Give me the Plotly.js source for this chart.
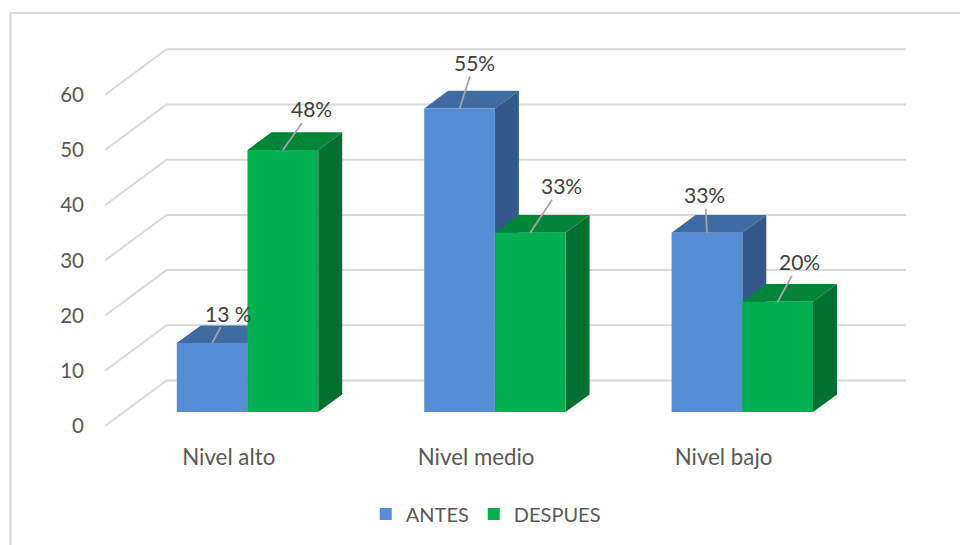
<!DOCTYPE html>
<html>
<head>
<meta charset="utf-8">
<script src="https://cdn.plot.ly/plotly-3.0.1.min.js"></script>
<style>html,body{margin:0;padding:0;background:#fff}#c{width:960px;height:545px}</style>
</head>
<body>
<div id="c"></div>
<script>
// Data
const categories = ['Nivel alto', 'Nivel medio', 'Nivel bajo'];
const antes = [12.5, 55, 32.5];
const despues = [47.5, 32.5, 20];
const antesLabels = ['13 %', '55%', '33%'];
const despuesLabels = ['48%', '33%', '20%'];
const yTicks = [0, 10, 20, 30, 40, 50, 60];

// Pseudo-3D projection (in axis units)
const W = 960, H = 545;
const M = {l: 88, r: 40, t: 20, b: 103};
const pxPerCat = 247.4, pxPerUnit = 5.52;
const xOf = px => (px - 247.5) / pxPerCat;
const yOf = px => (426 - px) / pxPerUnit;
const xRange = [xOf(M.l), xOf(W - M.r)];
const yRange = [yOf(H - M.b), yOf(M.t)];
const DX = 61.5 / pxPerCat, DY = 45.5 / pxPerUnit;   // full depth of the floor
const T0 = 0.305, T1 = 0.695;                        // bar depth inside floor
const BAR = 70.7 / pxPerCat;
const base = T0 * DY;
const dX = (T1 - T0) * DX, dY = (T1 - T0) * DY;

// wall gridlines
const gx = [], gy = [];
const wallL = -0.5 - T0 * DX, wallR = xOf(906);
yTicks.forEach(v => {
  gx.push(wallL, wallL + DX, wallR, null);
  gy.push(v, v + DY, v + DY, null);
});

function faces(values, offset) {
  const top = {x: [], y: []}, side = {x: [], y: []};
  values.forEach((v, i) => {
    const l = i + offset * BAR, r = l + BAR, h = base + v;
    top.x.push(l, r, r + dX, l + dX, l, null);
    top.y.push(h, h, h + dY, h + dY, h, null);
    side.x.push(r, r + dX, r + dX, r, r, null);
    side.y.push(base, base + dY, h + dY, h, base, null);
  });
  return {top, side};
}
const fa = faces(antes, -1), fd = faces(despues, 0);
const poly = (f, color) => ({
  x: f.x, y: f.y, type: 'scatter', mode: 'lines', fill: 'toself', fillcolor: color,
  line: {width: 0, color: color}, showlegend: false, hoverinfo: 'skip'
});
const idx = categories.map((_, i) => i);

const traces = [
  {x: gx, y: gy, type: 'scatter', mode: 'lines', line: {color: '#DADADA', width: 2},
   showlegend: false, hoverinfo: 'skip'},
  poly(fa.side, '#33598A'), poly(fa.top, '#3E6BA1'),
  poly(fd.side, '#007030'), poly(fd.top, '#008539'),
  {x: idx.map(i => i - BAR / 2), y: antes, base: antes.map(() => base), width: BAR,
   type: 'bar', name: 'ANTES', marker: {color: '#558ED5'}, xaxis: 'x2', yaxis: 'y2'},
  {x: idx.map(i => i + BAR / 2), y: despues, base: despues.map(() => base), width: BAR,
   type: 'bar', name: 'DESPUES', marker: {color: '#00B050'}, xaxis: 'x2', yaxis: 'y2'}
];

const antesOff = [[16, -30], [15, -46], [-2, -38]];
const despuesOff = [[29, -41], [31, -47], [22, -40]];
const ann = (v, i, off, sign, text) => ({
  x: i + sign * BAR / 2, y: base + v, xref: 'x', yref: 'y', text,
  ax: off[0], ay: off[1], axref: 'pixel', ayref: 'pixel',
  showarrow: true, arrowhead: 0, arrowwidth: 1.8, arrowcolor: '#A6A6A6',
  font: {family: 'Lato', size: 21, color: '#404040'}, standoff: 0, startstandoff: 0
});
const annotations = [
  ...antes.map((v, i) => ann(v, i, antesOff[i], -1, antesLabels[i])),
  ...despues.map((v, i) => ann(v, i, despuesOff[i], 1, despuesLabels[i]))
];

const pw = W - M.l - M.r, ph = H - M.t - M.b;
const fx = px => (px - M.l) / pw, fy = py => 1 - (py - M.t) / ph;

const layout = {
  width: W, height: H, margin: M, paper_bgcolor: '#fff', plot_bgcolor: 'rgba(0,0,0,0)',
  barmode: 'overlay', showlegend: true, hovermode: false,
  font: {family: 'Lato', size: 21, color: '#595959'},
  xaxis: {range: xRange, tickvals: idx.map(i => i - T0 * DX), ticktext: categories,
          tickfont: {family: 'Lato', size: 22.3, color: '#595959'},
          showgrid: false, zeroline: false, showline: false, ticks: '', fixedrange: true},
  yaxis: {range: yRange, tickvals: yTicks, tickfont: {family: 'Lato', size: 20.5, color: '#595959'},
          ticklabelstandoff: 3,
          showgrid: false, zeroline: false, showline: false, ticks: '', fixedrange: true},
  xaxis2: {range: xRange, overlaying: 'x', visible: false, fixedrange: true},
  yaxis2: {range: yRange, overlaying: 'y', visible: false, fixedrange: true},
  legend: {orientation: 'h', x: 0.506, xanchor: 'center', xref: 'container', y: 0.057, yanchor: 'middle',
           yref: 'container', font: {family: 'Lato', size: 20, color: '#595959'}, bgcolor: 'rgba(0,0,0,0)',
           traceorder: 'normal'},
  annotations,
  shapes: [{type: 'path', layer: 'below', xref: 'paper', yref: 'paper',
            path: `M ${fx(10.5)} ${fy(550)} L ${fx(10.5)} ${fy(13)} L ${fx(965)} ${fy(13)}`,
            line: {color: '#DADADA', width: 2}}]
};
Plotly.newPlot('c', traces, layout, {displayModeBar: false, responsive: false});
</script>
</body>
</html>
